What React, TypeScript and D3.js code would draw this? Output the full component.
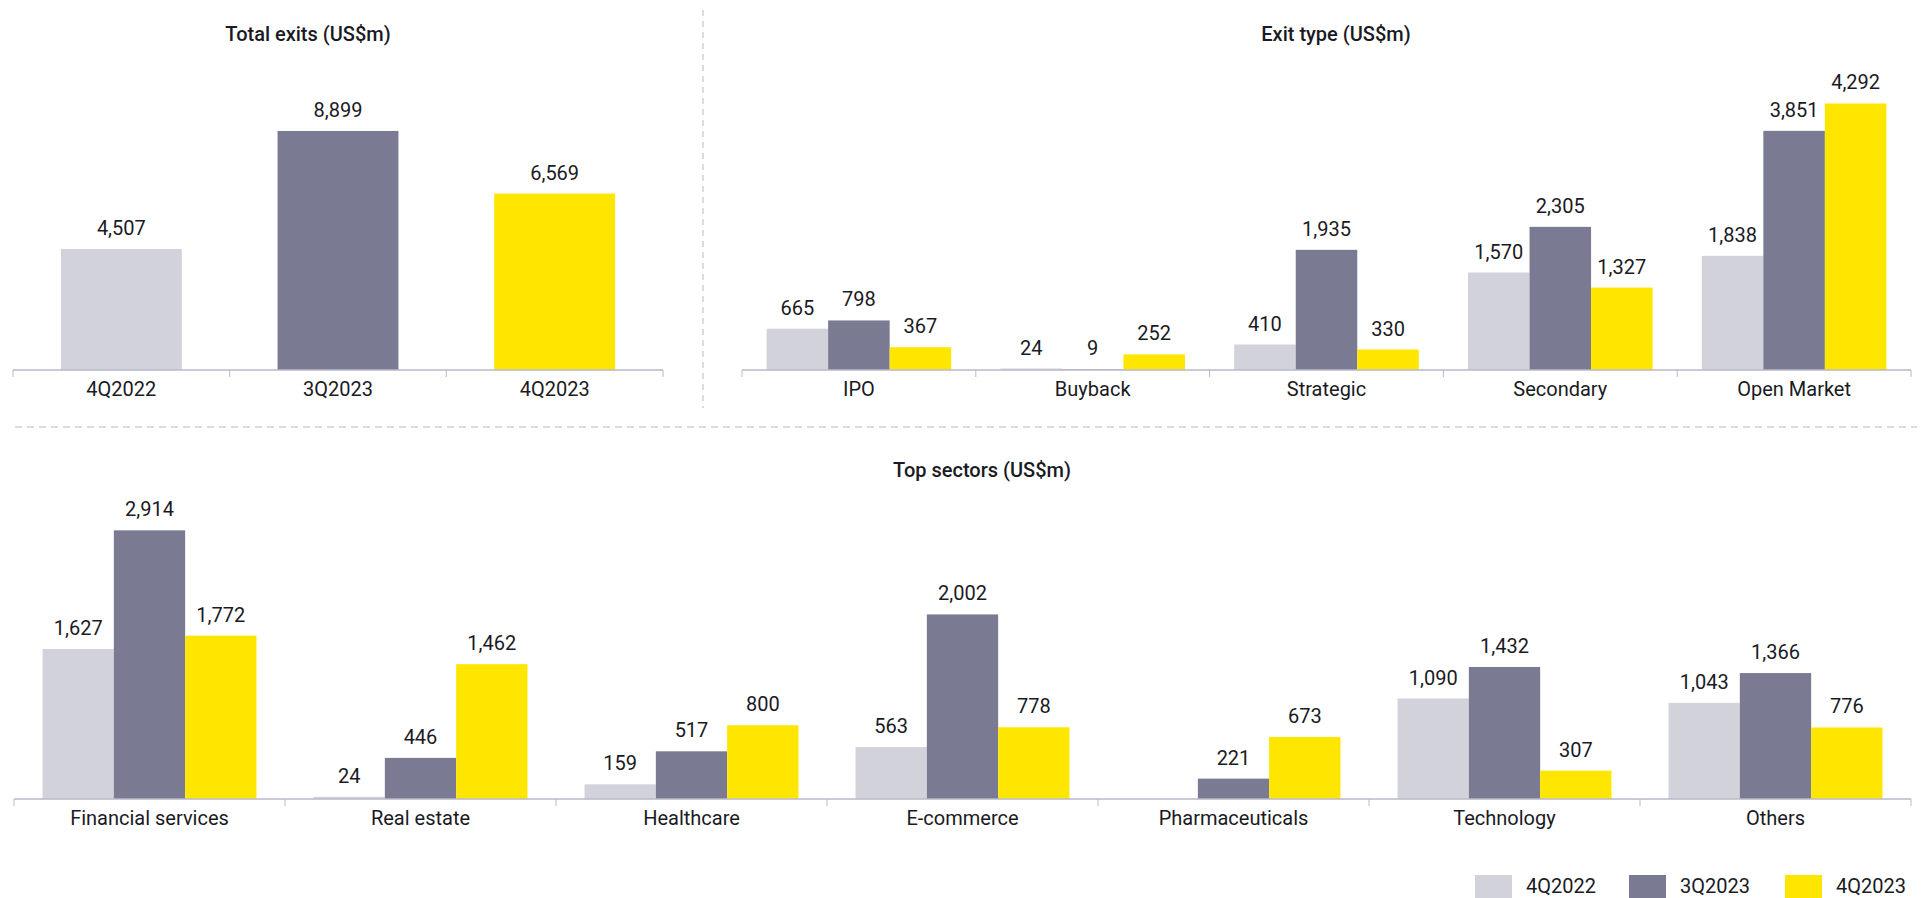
import React from "react";
import * as d3 from "d3";

const periods = ["4Q2022", "3Q2023", "4Q2023"];
const colors = ["#D2D2DA", "#7A7A92", "#FFE600"];

const totalCategories = ["4Q2022", "3Q2023", "4Q2023"];
const totalValues = [4507, 8899, 6569];

const exitTypes = ["IPO", "Buyback", "Strategic", "Secondary", "Open Market"];
const exit4Q2022 = [665, 24, 410, 1570, 1838];
const exit3Q2023 = [798, 9, 1935, 2305, 3851];
const exit4Q2023 = [367, 252, 330, 1327, 4292];

const sectors = ["Financial services", "Real estate", "Healthcare", "E-commerce", "Pharmaceuticals", "Technology", "Others"];
const sector4Q2022: (number | null)[] = [1627, 24, 159, 563, null, 1090, 1043];
const sector3Q2023 = [2914, 446, 517, 2002, 221, 1432, 1366];
const sector4Q2023 = [1772, 1462, 800, 778, 673, 307, 776];

const FONT = "Roboto, 'Open Sans', sans-serif";
const TEXT = "#1A1A24";
const AXIS = "#B8B8CA";
const fmt = d3.format(",");

function Axis({ x0, x1, y, n }: { x0: number; x1: number; y: number; n: number }) {
  const ticks = d3.range(n + 1).map((i) => x0 + ((x1 - x0) * i) / n);
  return (
    <g>
      <line x1={x0} x2={x1} y1={y} y2={y} stroke={AXIS} strokeWidth={1.5} />
      {ticks.map((t, i) => (
        <line key={i} x1={t} x2={t} y1={y} y2={y + 7} stroke={AXIS} strokeWidth={1} />
      ))}
    </g>
  );
}

function GroupedPanel({
  cats, series, x0, x1, base, maxV, k, title, titleX, titleY, padOuter,
}: {
  cats: string[]; series: (number | null)[][]; x0: number; x1: number; base: number; maxV: number; k: number;
  title: string; titleX: number; titleY: number; padOuter: number;
}) {
  const x = d3.scaleBand<string>().domain(cats).range([x0, x1]).paddingInner(0).paddingOuter(0);
  const xs = d3.scaleBand<string>().domain(periods).range([0, x.bandwidth()]).paddingInner(0).paddingOuter(padOuter);
  const y = d3.scaleLinear().domain([0, maxV]).range([base, base - maxV * k]);
  return (
    <g>
      <text x={titleX} y={titleY} textAnchor="middle" fontFamily={FONT} fontWeight={500} fontSize={20} fill={TEXT}>
        {title}
      </text>
      {cats.map((c, ci) => (
        <g key={c}>
          {series.map((s, si) => {
            const v = s[ci];
            if (v === null || v === undefined) return null;
            const bx = (x(c) as number) + (xs(periods[si]) as number);
            return (
              <g key={si}>
                <rect x={bx} y={y(v)} width={xs.bandwidth()} height={base - y(v)} fill={colors[si]} />
                <text x={bx + xs.bandwidth() / 2} y={y(v) - 14} textAnchor="middle" fontFamily={FONT} fontSize={20} fill={TEXT}>
                  {fmt(v)}
                </text>
              </g>
            );
          })}
          <text x={(x(c) as number) + x.bandwidth() / 2} y={base + 26} textAnchor="middle" fontFamily={FONT} fontSize={20} fill={TEXT}>
            {c}
          </text>
        </g>
      ))}
      <Axis x0={x0} x1={x1} y={base} n={cats.length} />
    </g>
  );
}

function TotalPanel() {
  const x0 = 13, x1 = 663, base = 370;
  const x = d3.scaleBand<string>().domain(totalCategories).range([x0, x1]).paddingInner(0.442).paddingOuter(0.221);
  const y = d3.scaleLinear().domain([0, 10000]).range([base, base - 10000 * 0.02686]);
  return (
    <g>
      <text x={308} y={41} textAnchor="middle" fontFamily={FONT} fontWeight={500} fontSize={20} fill={TEXT}>
        Total exits (US$m)
      </text>
      {totalCategories.map((c, i) => {
        const v = totalValues[i];
        const bx = x(c) as number;
        return (
          <g key={c}>
            <rect x={bx} y={y(v)} width={x.bandwidth()} height={base - y(v)} fill={colors[i]} />
            <text x={bx + x.bandwidth() / 2} y={y(v) - 14} textAnchor="middle" fontFamily={FONT} fontSize={20} fill={TEXT}>
              {fmt(v)}
            </text>
            <text x={bx + x.bandwidth() / 2} y={base + 26} textAnchor="middle" fontFamily={FONT} fontSize={20} fill={TEXT}>
              {c}
            </text>
          </g>
        );
      })}
      <Axis x0={x0} x1={x1} y={base} n={3} />
    </g>
  );
}

export default function App() {
  const legendX = [1475, 1629, 1785];
  return (
    <svg width={1927} height={898} viewBox="0 0 1927 898"
      style={{ display: "block", position: "fixed", left: 0, top: 0 }}>
      <rect x={0} y={0} width={1927} height={898} fill="#fff" />
      <line x1={703} x2={703} y1={10} y2={408} stroke="#D0D0D8" strokeWidth={1.5} strokeDasharray="6,5" />
      <line x1={15} x2={1917} y1={427} y2={427} stroke="#D0D0D8" strokeWidth={1.5} strokeDasharray="7,5" />
      <TotalPanel />
      <GroupedPanel cats={exitTypes} series={[exit4Q2022, exit3Q2023, exit4Q2023]} x0={742} x1={1911} base={370}
        maxV={5000} k={0.0621} title="Exit type (US$m)" titleX={1336} titleY={41} padOuter={0.4} />
      <GroupedPanel cats={sectors} series={[sector4Q2022, sector3Q2023, sector4Q2023]} x0={14} x1={1911} base={799}
        maxV={3000} k={0.0922} title="Top sectors (US$m)" titleX={982} titleY={477} padOuter={0.4} />
      {periods.map((p, i) => (
        <g key={p}>
          <rect x={legendX[i]} y={875} width={37} height={23} fill={colors[i]} />
          <text x={legendX[i] + 51} y={893} fontFamily={FONT} fontSize={20} fill={TEXT}>{p}</text>
        </g>
      ))}
    </svg>
  );
}
